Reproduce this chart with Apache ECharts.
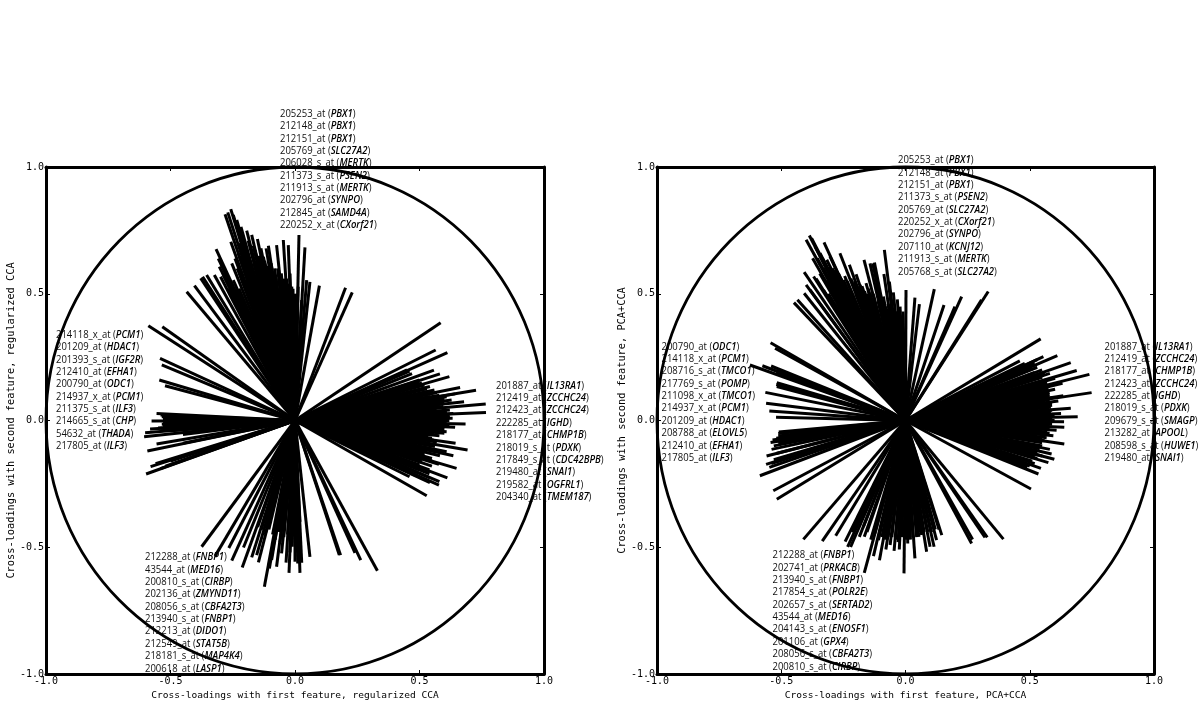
<!DOCTYPE html>
<html><head><meta charset="utf-8">
<style>html,body{margin:0;padding:0;background:#fff}#c{width:1200px;height:722px}</style>
<script src="https://cdn.jsdelivr.net/npm/echarts@6/dist/echarts.min.js"></script>
</head><body><div id="c"></div>
<script>
// Loading vector tips: [first feature, second feature]
const ccaUpper=[[-.435,.508],[-.404,.532],[-.379,.561],[-.371,.567],[-.355,.574],[-.324,.574],[-.304,.607],[-.317,.676],[-.308,.639],[-.281,.814],[-.270,.821],[-.258,.834],[-.248,.811],[-.234,.791],[-.217,.764],[-.194,.749],[-.174,.732],[-.151,.716],[-.137,.679],[-.116,.679],[-.107,.689],[-.087,.580],[-.074,.692],[-.063,.580],[-.047,.712],[-.027,.692],[.016,.732],[.040,.683],[.047,.554],[.060,.547],[.098,.532],[.203,.524],[.230,.505],[-.258,.705],[-.254,.620],[-.241,.639],[-.299,.567],[-.288,.574],[-.207,.607],[-.181,.633],[-.161,.672],[-.127,.646],[-.100,.607],[-.060,.567],[0,.475],[-.013,.528],[-.020,.58],[.013,.528],[.027,.475],[-.221,.58],[-.248,.554],[-.274,.567],[-.15,.60],[-.13,.58],[-.12,.60],[-.08,.56],[-.04,.55],[-.19,.62],[-.165,.62],
[-.232,.60],[-.228,.66],[-.222,.70],[-.214,.64],[-.205,.70],[-.198,.66],[-.188,.71],[-.176,.67],[-.168,.69],[-.157,.63],[-.146,.65],[-.141,.59],[-.134,.61],[-.122,.63],[-.112,.61],[-.106,.58],[-.096,.62],[-.09,.56],[-.082,.60],[-.076,.56],[-.07,.60],[-.055,.58],[-.05,.54],[-.044,.56],[-.034,.56],[-.03,.52],[-.024,.54],[-.016,.50],[-.008,.52],[-.004,.50],[.005,.50],[.009,.48],[-.21,.55],[-.195,.55],[-.18,.57],[-.17,.56],[-.16,.55],[-.145,.56],[-.125,.54],[-.115,.53],[-.10,.53],[-.09,.52],[-.07,.51],[-.265,.52],[-.24,.52],[-.225,.52]];
const ccaSide=[[-.589,.374],[-.533,.370],[-.542,.245],[-.535,.219],[-.545,.160],[-.522,.137],[-.556,.028],[-.576,-.002],[-.535,.015],[-.535,-.015],[-.582,-.034],[-.602,-.048],[-.606,-.064],[-.556,-.093],[-.593,-.120],[-.580,-.182],[-.598,-.211],[-.529,.002],[-.56,-.17],[-.55,-.03],[-.53,.008],[-.53,-.008],[-.53,-.022],[-.54,.022],[-.53,.012],[-.54,-.04],[-.52,-.005],[-.5,-.16],[-.52,-.18],[-.54,-.19],[-.5,-.04],[-.45,-.055],[-.45,-.09]];
const ccaRight=[[.585,.386],[.565,.278],[.612,.268],[.558,.199],[.582,.184],[.620,.173],[.542,.134],[.663,.130],[.727,.119],[.643,.105],[.609,.094],[.679,.074],[.629,.081],[.766,.065],[.569,.048],[.767,.032],[.622,.015],[.633,.009],[.685,-.014],[.643,-.027],[.609,-.044],[.535,-.061],[.645,-.090],[.693,-.116],[.609,-.123],[.636,-.139],[.582,-.139],[.578,-.173],[.649,-.189],[.612,-.226],[.580,-.241],[.578,-.255],[.529,-.297],[.542,-.245],[.562,-.103],[.569,-.123],[.596,.055],[.622,.041],[.636,.028],[.609,-.005],[.556,-.077],[.542,-.038],[.56,.12],[.57,.11],[.58,.10],[.60,.085],[.60,.07],[.61,.035],[.62,.02],[.62,0],[.62,-.02],[.60,-.035],[.60,-.05],[.58,-.06],[.57,-.085],[.55,-.15],[.55,-.16],[.55,-.18],[.54,-.195],[.54,-.21],[.54,-.225],[.50,.16],[.50,.15],
[.53,.125],[.535,.115],[.54,.105],[.545,.095],[.55,.088],[.55,.078],[.56,.066],[.56,.058],[.565,.04],[.57,.03],[.575,.022],[.58,.012],[.58,.005],[.58,-.003],[.58,-.012],[.575,-.03],[.57,-.042],[.56,-.052],[.55,-.07],[.54,-.09],[.54,-.098],[.53,-.11],[.53,-.118],[.52,-.128],[.52,-.136],[.52,-.146],[.51,-.156],[.51,-.165],[.50,-.175],[.50,-.185],[.50,-.195],[.49,-.205],[.48,-.215],[.46,-.222],[.52,.14],[.51,.148],[.50,.142],[.47,.185],[.46,.195],[.45,.20]];
const ccaLower=[[-.375,-.498],[-.321,-.535],[-.266,-.503],[-.254,-.553],[-.207,-.501],[-.212,-.580],[-.174,-.540],[-.154,-.531],[-.147,-.560],[-.123,-.656],[-.103,-.584],[-.074,-.577],[-.054,-.524],[-.036,-.561],[-.024,-.601],[-.011,-.498],[0,-.557],[.011,-.564],[.020,-.601],[.027,-.561],[.060,-.538],[.178,-.531],[.183,-.531],[.241,-.522],[.264,-.551],[.331,-.593],[-.094,-.55],[-.02,-.52],[.013,-.498],
[-.09,-.45],[-.08,-.47],[-.065,-.44],[-.06,-.48],[-.045,-.46],[-.03,-.45],[-.015,-.47],[-.005,-.45],[.005,-.48],[.016,-.45],[-.12,-.45],[-.105,-.43],[-.135,-.43],[-.15,-.42],[.02,-.40]];
const pcaUpper=[[-.449,.465],[-.435,.476],[-.408,.502],[-.400,.535],[-.408,.585],[-.384,.515],[-.400,.713],[-.387,.730],[-.378,.719],[-.364,.686],[-.374,.640],[-.344,.660],[-.328,.703],[-.317,.634],[-.304,.647],[-.284,.594],[-.264,.660],[-.250,.555],[-.226,.614],[-.199,.577],[-.183,.535],[-.167,.634],[-.159,.542],[-.143,.620],[-.132,.620],[-.125,.623],[-.105,.502],[-.085,.673],[-.087,.578],[-.065,.548],[-.049,.505],[-.033,.478],[-.022,.449],[.002,.515],[.038,.485],[.056,.459],[.116,.518],[.155,.456],[.226,.489],[.199,.449],[.333,.509],[.306,.476],[-.33,.515],[-.37,.568],[-.284,.456],[-.237,.515],[-.304,.541],[-.21,.476],[-.143,.502],[-.116,.542],[-.089,.489],[-.062,.449],[-.25,.50],[-.27,.52],[-.22,.50],[-.20,.50],[-.19,.48],[-.17,.50],[-.13,.50],[-.10,.46],[-.08,.45],[-.05,.44],[-.03,.43],[-.01,.43],
[-.355,.64],[-.335,.64],[-.33,.60],[-.31,.60],[-.295,.60],[-.28,.56],[-.27,.58],[-.26,.56],[-.245,.57],[-.235,.55],[-.22,.56],[-.21,.54],[-.205,.55],[-.19,.53],[-.175,.53],[-.165,.51],[-.155,.50],[-.15,.52],[-.125,.47],[-.11,.47],[-.095,.46],[-.075,.44],[-.07,.46],[-.04,.43],[-.02,.41],[-.32,.55],[-.345,.58],[-.36,.56],[-.31,.50],[-.29,.50],[-.265,.48],[-.245,.46],[-.225,.46],[-.2,.45]];
const pcaSide=[[-.543,.307],[-.525,.285],[-.626,.219],[-.576,.216],[-.541,.215],[-.521,.188],[-.518,.149],[-.518,.134],[-.564,.111],[-.561,.068],[-.548,.037],[-.521,.013],[-.512,-.051],[-.512,-.061],[-.535,-.077],[-.543,-.087],[-.512,-.090],[-.539,-.114],[-.559,-.140],[-.561,-.173],[-.548,-.185],[-.521,-.163],[-.586,-.218],[-.532,-.277],[-.518,-.311],[-.51,-.045],[-.53,-.1],[-.51,.14],[-.52,.142],[-.515,.195],[-.52,-.07],[-.52,-.13],[-.53,-.155],[-.54,-.17]];
const pcaRight=[[.544,.322],[.555,.252],[.611,.256],[.530,.210],[.665,.228],[.689,.197],[.581,.186],[.740,.182],[.602,.166],[.632,.147],[.602,.123],[.749,.110],[.635,.098],[.615,.077],[.665,.048],[.626,.028],[.693,.015],[.638,-.005],[.639,-.027],[.608,-.038],[.595,-.060],[.568,-.068],[.639,-.093],[.581,-.114],[.588,-.132],[.599,-.153],[.575,-.166],[.545,-.189],[.535,-.211],[.505,-.270],[.528,-.123],[.55,.17],[.57,.15],[.58,.135],[.58,.11],[.59,.09],[.59,.07],[.59,.06],[.59,.04],[.60,.02],[.60,0],[.59,-.015],[.58,-.05],[.56,-.08],[.55,-.10],[.55,-.14],[.53,-.15],[.52,-.17],[.53,.24],[.52,.225],[.52,.19],
[.55,.20],[.56,.19],[.555,.178],[.565,.16],[.57,.143],[.575,.128],[.575,.118],[.58,.103],[.58,.095],[.58,.082],[.58,.066],[.585,.052],[.585,.033],[.59,.012],[.59,.005],[.585,-.008],[.58,-.022],[.58,-.032],[.57,-.045],[.56,-.056],[.55,-.074],[.55,-.088],[.54,-.112],[.53,-.13],[.52,-.14],[.51,-.16],[.50,-.18],[.49,-.185],[.51,.205],[.50,.215],[.48,.225],[.46,.235]];
const pcaLower=[[-.411,-.469],[-.335,-.476],[-.281,-.455],[-.243,-.478],[-.233,-.499],[-.221,-.499],[-.186,-.459],[-.166,-.459],[-.166,-.601],[-.129,-.535],[-.105,-.551],[-.109,-.472],[-.079,-.509],[-.062,-.491],[-.046,-.514],[-.025,-.509],[-.006,-.603],[.009,-.485],[.038,-.544],[.054,-.459],[.085,-.518],[.099,-.498],[.115,-.498],[.125,-.472],[.146,-.452],[.266,-.485],[.270,-.469],[.320,-.461],[.329,-.461],[.394,-.468],[.065,-.452],[-.03,-.48],[-.08,-.47],[-.14,-.47],[.02,-.47],
[-.155,-.44],[-.125,-.45],[-.095,-.46],[-.07,-.46],[-.055,-.46],[-.04,-.47],[-.015,-.46],[0,-.47],[.015,-.46],[.03,-.46],[.045,-.46],[.06,-.44],[.075,-.44],[.09,-.44],[.105,-.44],[.12,-.43],[.135,-.43],[-.17,-.42],[-.2,-.42],[-.215,-.44]];

const xTitles=['Cross-loadings with first feature, regularized CCA','Cross-loadings with first feature, PCA+CCA'];
const yTitles=['Cross-loadings with second feature, regularized CCA','Cross-loadings with second feature, PCA+CCA'];

const ccaTopProbes=['205253_at','212148_at','212151_at','205769_at','206028_s_at','211373_s_at','211913_s_at','202796_at','212845_at','220252_x_at'];
const ccaTopGenes=['PBX1','PBX1','PBX1','SLC27A2','MERTK','PSEN2','MERTK','SYNPO','SAMD4A','CXorf21'];
const ccaLeftProbes=['214118_x_at','201209_at','201393_s_at','212410_at','200790_at','214937_x_at','211375_s_at','214665_s_at','54632_at','217805_at'];
const ccaLeftGenes=['PCM1','HDAC1','IGF2R','EFHA1','ODC1','PCM1','ILF3','CHP','THADA','ILF3'];
const ccaRightProbes=['201887_at','212419_at','212423_at','222285_at','218177_at','218019_s_at','217849_s_at','219480_at','219582_at','204340_at'];
const ccaRightGenes=['IL13RA1','ZCCHC24','ZCCHC24','IGHD','CHMP1B','PDXK','CDC42BPB','SNAI1','OGFRL1','TMEM187'];
const ccaBottomProbes=['212288_at','43544_at','200810_s_at','202136_at','208056_s_at','213940_s_at','212213_at','212549_at','218181_s_at','200618_at'];
const ccaBottomGenes=['FNBP1','MED16','CIRBP','ZMYND11','CBFA2T3','FNBP1','DIDO1','STAT5B','MAP4K4','LASP1'];
const pcaTopProbes=['205253_at','212148_at','212151_at','211373_s_at','205769_at','220252_x_at','202796_at','207110_at','211913_s_at','205768_s_at'];
const pcaTopGenes=['PBX1','PBX1','PBX1','PSEN2','SLC27A2','CXorf21','SYNPO','KCNJ12','MERTK','SLC27A2'];
const pcaLeftProbes=['200790_at','214118_x_at','208716_s_at','217769_s_at','211098_x_at','214937_x_at','201209_at','208788_at','212410_at','217805_at'];
const pcaLeftGenes=['ODC1','PCM1','TMCO1','POMP','TMCO1','PCM1','HDAC1','ELOVL5','EFHA1','ILF3'];
const pcaRightProbes=['201887_at','212419_at','218177_at','212423_at','222285_at','218019_s_at','209679_s_at','213282_at','208598_s_at','219480_at'];
const pcaRightGenes=['IL13RA1','ZCCHC24','CHMP1B','ZCCHC24','IGHD','PDXK','SMAGP','APOOL','HUWE1','SNAI1'];
const pcaBottomProbes=['212288_at','202741_at','213940_s_at','217854_s_at','202657_s_at','43544_at','204143_s_at','201106_at','208056_s_at','200810_s_at'];
const pcaBottomGenes=['FNBP1','PRKACB','FNBP1','POLR2E','SERTAD2','MED16','ENOSF1','GPX4','CBFA2T3','CIRBP'];

const MONO='"DejaVu Sans Mono",monospace', SANS='"Open Sans",sans-serif';
const FS=9.5, STEP=12.38;
function block(x,y0,probes,genes){
  return probes.map((p,i)=>({type:'text',silent:true,z:1,x:x,y:y0+i*STEP,scaleY:1.05,
    style:{text:'{n|'+p+' (}{g|'+genes[i]+'}{n|)}',verticalAlign:'middle',align:'left',
      rich:{n:{fontFamily:SANS,fontSize:FS,fill:'#111'},g:{fontFamily:SANS,fontSize:FS,fontStyle:'italic',fontWeight:600,fill:'#000'}}}}));
}
const graphics=[].concat(
  block(280,114,ccaTopProbes,ccaTopGenes),block(56,335,ccaLeftProbes,ccaLeftGenes),
  block(496,385.8,ccaRightProbes,ccaRightGenes),block(145,557.3,ccaBottomProbes,ccaBottomGenes),
  block(898,160.3,pcaTopProbes,pcaTopGenes),block(661.5,346.7,pcaLeftProbes,pcaLeftGenes),
  block(1104.5,346.7,pcaRightProbes,pcaRightGenes),block(772.5,555.3,pcaBottomProbes,pcaBottomGenes));

function axes(kind,g,title){
  const base={gridIndex:g,type:'value',min:-1,max:1,interval:.5,z:5,splitLine:{show:false},
    axisTick:{inside:true,length:4,lineStyle:{color:'#000',width:1}},
    axisLine:{onZero:false,lineStyle:{color:'#000',width:3}}};
  const main=Object.assign({},base,{position:kind==='x'?'bottom':'left',name:title,nameLocation:'middle',
    nameGap:kind==='x'?10:18,nameTextStyle:{fontFamily:MONO,fontSize:kind==='x'?9.55:10.3,color:'#000'},
    axisLabel:{fontFamily:MONO,fontSize:10,color:'#000',margin:kind==='x'?2:2,hideOverlap:false,showMinLabel:true,showMaxLabel:true,formatter:v=>v.toFixed(1)}});
  const other=Object.assign({},base,{position:kind==='x'?'top':'right',axisLabel:{show:false}});
  return [main,other];
}
function spokes(name,g,arrays){
  const data=[].concat(...arrays);
  return {name,type:'custom',xAxisIndex:g*2,yAxisIndex:g*2,z:3,clip:false,silent:true,encode:{x:0,y:1},data,
    renderItem:(p,api)=>{const a=api.coord([0,0]),b=api.coord([api.value(0),api.value(1)]);
      return {type:'line',shape:{x1:a[0],y1:a[1],x2:b[0],y2:b[1]},style:{stroke:'#000',lineWidth:3,fill:null}};}};
}
function unitCircle(name,g){
  return {name,type:'custom',xAxisIndex:g*2,yAxisIndex:g*2,z:3,clip:false,silent:true,data:[[0,0]],encode:{x:0,y:1},
    renderItem:(p,api)=>{const c=api.coord([api.value(0),api.value(1)]),s=api.size([1,1]);
      return {type:'ellipse',shape:{cx:c[0],cy:c[1],rx:s[0],ry:s[1]},style:{stroke:'#000',lineWidth:2.8,fill:null}};}};
}
const chart=echarts.init(document.getElementById('c'),null,{renderer:'canvas'});
chart.setOption({animation:false,backgroundColor:'#fff',tooltip:{show:false},
  grid:[{left:46,right:656,top:167,bottom:48},{left:657,right:46,top:167,bottom:48}],
  xAxis:[...axes('x',0,xTitles[0]),...axes('x',1,xTitles[1])],
  yAxis:[...axes('y',0,yTitles[0]),...axes('y',1,yTitles[1])],
  graphic:{elements:graphics},
  series:[spokes('Regularized CCA',0,[ccaUpper,ccaSide,ccaRight,ccaLower]),unitCircle('Unit circle CCA',0),
          spokes('PCA+CCA',1,[pcaUpper,pcaSide,pcaRight,pcaLower]),unitCircle('Unit circle PCA',1)]
});
</script></body></html>
